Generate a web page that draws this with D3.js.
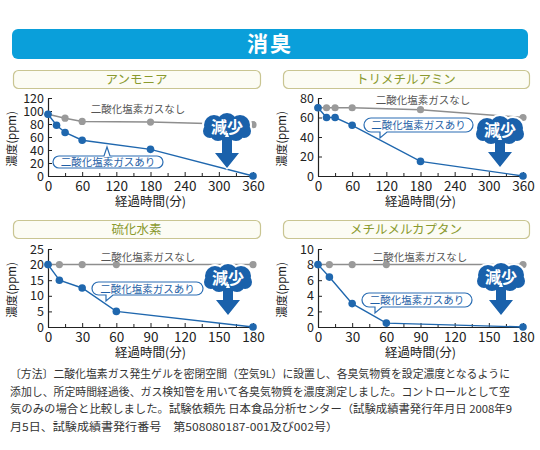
<!DOCTYPE html>
<html><head><meta charset="utf-8">
<script src="https://cdn.jsdelivr.net/npm/d3@7"></script>
<style>
html,body{margin:0;padding:0;background:#fff;}
svg{display:block;}
text{font-family:"Noto Sans CJK JP","Noto Sans",sans-serif;}
</style>
</head><body>
<svg id="c" width="540" height="450"></svg>
<script>
// ---------- data ----------
const mainTitle = "消臭";
const chartTitles = ["アンモニア", "トリメチルアミン", "硫化水素", "メチルメルカプタン"];
const seriesNames = ["二酸化塩素ガスなし", "二酸化塩素ガスあり"];
const badgeText = "減少";
const xLabel = "経過時間(分)";
const yLabel = "濃度(ppm)";

const xTicks360 = [0, 60, 120, 180, 240, 300, 360];
const xTicks180 = [0, 30, 60, 90, 120, 150, 180];

// アンモニア
const ammoniaTimesNone = [0, 30, 60, 180, 360];
const ammoniaNone = [95, 89, 84, 83, 79];
const ammoniaTimesWith = [0, 15, 30, 60, 180, 360];
const ammoniaWith = [95, 78, 67, 55, 41, 0];
const ammoniaYTicks = [0, 20, 40, 60, 80, 100, 120];

// トリメチルアミン
const tmaTimesNone = [0, 15, 30, 60, 180, 360];
const tmaNone = [70, 70, 70, 70, 68, 60];
const tmaTimesWith = [0, 15, 30, 60, 180, 360];
const tmaWith = [70, 60, 60, 52, 15, 0];
const tmaYTicks = [0, 20, 40, 60, 80];

// 硫化水素
const h2sTimesNone = [0, 10, 30, 60, 180];
const h2sNone = [20, 20, 20, 20, 20];
const h2sTimesWith = [0, 10, 30, 60, 180];
const h2sWith = [20, 15, 12.5, 5, 0];
const h2sYTicks = [0, 5, 10, 15, 20, 25];

// メチルメルカプタン
const mmTimesNone = [0, 10, 30, 60, 180];
const mmNone = [8, 8, 8, 8, 8];
const mmTimesWith = [0, 10, 30, 60, 180];
const mmWith = [8, 6.4, 3, 0.5, 0];
const mmYTicks = [0, 2, 4, 6, 8, 10];

const footnoteLines = [
  "〔方法〕二酸化塩素ガス発生ゲルを密閉空間（空気9L）に設置し、各臭気物質を設定濃度となるように",
  "添加し、所定時間経過後、ガス検知管を用いて各臭気物質を濃度測定しました。コントロールとして空",
  "気のみの場合と比較しました。試験依頼先 日本食品分析センター（試験成績書発行年月日 2008年9",
  "月5日、試験成績書発行番号　第508080187-001及び002号）"
];

// ---------- styling / layout ----------
const BLUE = "#1f67ae", GRAY_LINE = "#8e8e8e", GRAY_DOT = "#9a9a9a";
const BADGE = "#1a61ab";
const NUMFONT = "'Liberation Sans',Arial,sans-serif";
const svg = d3.select("#c");

// banner
svg.append("rect").attr("x", 12).attr("y", 29).attr("width", 516).attr("height", 30)
  .attr("rx", 6).attr("fill", "#0a9fda");
svg.append("text").attr("x", 270).attr("y", 51).attr("text-anchor", "middle")
  .attr("fill", "#fff").attr("font-size", 21).attr("font-weight", 700)
  .attr("letter-spacing", 2).text(mainTitle);

const panels = [
  {title: chartTitles[0], tx: 13, tw: 247, ty: 70, left: 48, top: 98,
   tN: ammoniaTimesNone, vN: ammoniaNone, tW: ammoniaTimesWith, vW: ammoniaWith,
   yTicks: ammoniaYTicks, xTicks: xTicks360,
   gray: [90, 11], call: [5, 58, 110, 12, "up", 56], badge: [179, 30, 70]},
  {title: chartTitles[1], tx: 283, tw: 246, ty: 70, left: 318, top: 98,
   tN: tmaTimesNone, vN: tmaNone, tW: tmaTimesWith, vW: tmaWith,
   yTicks: tmaYTicks, xTicks: xTicks360,
   gray: [105, 2], call: [46, 20, 109, 14, "down", 62], badge: [182, 33, 69]},
  {title: chartTitles[2], tx: 13, tw: 247, ty: 220, left: 48, top: 249,
   tN: h2sTimesNone, vN: h2sNone, tW: h2sTimesWith, vW: h2sWith,
   yTicks: h2sYTicks, xTicks: xTicks180,
   gray: [100, 8], call: [44, 33, 111, 13, "down", 58], badge: [180, 30, 66]},
  {title: chartTitles[3], tx: 283, tw: 246, ty: 220, left: 318, top: 249,
   tN: mmTimesNone, vN: mmNone, tW: mmTimesWith, vW: mmWith,
   yTicks: mmYTicks, xTicks: xTicks180,
   gray: [102, 8], call: [44, 44, 110, 14, "down", 57], badge: [183, 29, 66]}
];

const PW = 205, PH = 78;

panels.forEach(p => {
  // title box
  svg.append("rect").attr("x", p.tx + 0.5).attr("y", p.ty + 0.5).attr("width", p.tw).attr("height", 18)
    .attr("rx", 5).attr("fill", "#fcfcf4").attr("stroke", "#c9c592").attr("stroke-width", 1.2);
  svg.append("text").attr("x", p.tx + p.tw / 2).attr("y", p.ty + 14).attr("text-anchor", "middle")
    .attr("font-size", 12.5).attr("fill", "#8a9a2e").text(p.title);

  const xMax = p.xTicks[p.xTicks.length - 1];
  const yMax = p.yTicks[p.yTicks.length - 1];
  const x = d3.scaleLinear().domain([0, xMax]).range([0, PW]);
  const y = d3.scaleLinear().domain([0, yMax]).range([PH, 0]);
  const g = svg.append("g").attr("transform", `translate(${p.left},${p.top})`);

  // minor x ticks
  const step = p.xTicks[1] - p.xTicks[0];
  const minor = p.xTicks.slice(0, -1).map(v => v + step / 2);
  g.append("g").attr("transform", `translate(0,${PH})`)
    .call(d3.axisBottom(x).tickValues(minor).tickSizeInner(-3).tickSizeOuter(0).tickFormat(""))
    .call(a => a.select(".domain").remove())
    .call(a => a.selectAll("line").attr("stroke", "#222"));

  // x axis
  g.append("g").attr("transform", `translate(0,${PH})`)
    .call(d3.axisBottom(x).tickValues(p.xTicks).tickSizeInner(-4).tickSizeOuter(0).tickPadding(5))
    .call(a => a.select(".domain").attr("stroke", "#222").attr("stroke-width", 1.2))
    .call(a => a.selectAll("line").attr("stroke", "#222"))
    .call(a => a.selectAll("text").attr("font-size", 13.5).attr("fill", "#222").attr("font-family", NUMFONT));

  // y axis
  g.append("g")
    .call(d3.axisLeft(y).tickValues(p.yTicks).tickSizeInner(-4).tickSizeOuter(0).tickPadding(4))
    .call(a => a.select(".domain").attr("stroke", "#222").attr("stroke-width", 1.2))
    .call(a => a.selectAll("line").attr("stroke", "#222"))
    .call(a => a.selectAll("text").attr("font-size", 12.5).attr("fill", "#222").attr("font-family", NUMFONT));

  // axis titles
  g.append("text").attr("x", PW / 2).attr("y", PH + 30).attr("text-anchor", "middle")
    .attr("font-size", 12.5).attr("fill", "#222").text(xLabel);
  g.append("text").attr("transform", `translate(${-32},${PH / 2 + 2}) rotate(-90)`)
    .attr("text-anchor", "middle").attr("font-size", 11.5).attr("fill", "#222").text(yLabel);

  const line = d3.line().x(d => x(d[0])).y(d => y(d[1]));
  const none = p.tN.map((t, i) => [t, p.vN[i]]);
  const withD = p.tW.map((t, i) => [t, p.vW[i]]);

  // gray series
  g.append("path").datum(none).attr("d", line).attr("fill", "none")
    .attr("stroke", GRAY_LINE).attr("stroke-width", 1.5);
  g.selectAll(".gd").data(none).enter().append("circle")
    .attr("cx", d => x(d[0])).attr("cy", d => y(d[1])).attr("r", 3.6).attr("fill", GRAY_DOT);

  // blue series
  g.append("path").datum(withD).attr("d", line).attr("fill", "none")
    .attr("stroke", BLUE).attr("stroke-width", 1.4);
  g.selectAll(".bd").data(withD).enter().append("circle")
    .attr("cx", d => x(d[0])).attr("cy", d => y(d[1])).attr("r", 3.8).attr("fill", BLUE);

  // gray series label
  g.append("text").attr("x", p.gray[0]).attr("y", p.gray[1] + 4).attr("text-anchor", "middle")
    .attr("font-size", 10.5).attr("fill", "#555").text(seriesNames[0]);

  // callout
  const [cx0, cy0, cw, ch, dir, tx] = p.call;
  const r = ch / 2;
  let path;
  if (dir === "up") {
    path = `M${cx0 + r},${cy0} L${tx},${cy0} L${tx + 3},${cy0 - 9} L${tx + 6},${cy0} L${cx0 + cw - r},${cy0}
      A${r},${r} 0 0 1 ${cx0 + cw - r},${cy0 + ch} L${cx0 + r},${cy0 + ch} A${r},${r} 0 0 1 ${cx0 + r},${cy0} Z`;
  } else {
    path = `M${cx0 + r},${cy0} L${cx0 + cw - r},${cy0} A${r},${r} 0 0 1 ${cx0 + cw - r},${cy0 + ch}
      L${tx + 7},${cy0 + ch} L${tx},${cy0 + ch + 6} L${tx},${cy0 + ch} L${cx0 + r},${cy0 + ch}
      A${r},${r} 0 0 1 ${cx0 + r},${cy0} Z`;
  }
  g.append("path").attr("d", path).attr("fill", "#fff").attr("stroke", "#2a6db3").attr("stroke-width", 1.2);
  g.append("text").attr("x", cx0 + cw / 2).attr("y", cy0 + ch / 2 + 4).attr("text-anchor", "middle")
    .attr("font-size", 10.5).attr("fill", "#1f5fa6").text(seriesNames[1]);

  // badge + arrow
  const [bx, by, tipY] = p.badge;
  const bumps = [[-13, -3, 10], [0, -5, 10], [13, -3, 10], [-9, 5, 8], [9, 5, 8], [-17, 3, 7], [17, 3, 7]];
  const bg = g.append("g");
  const arrow = `M${bx - 5},${by + 9} L${bx + 5},${by + 9} L${bx + 5},${tipY - 15} L${bx + 12},${tipY - 15}
    L${bx},${tipY} L${bx - 12},${tipY - 15} L${bx - 5},${tipY - 15} Z`;
  bg.append("path").attr("d", arrow).attr("fill", "#fff").attr("stroke", "#fff").attr("stroke-width", 2.5);
  bumps.forEach(b => bg.append("circle").attr("cx", bx + b[0]).attr("cy", by + b[1]).attr("r", b[2] + 2).attr("fill", "#fff"));
  bg.append("path").attr("d", arrow).attr("fill", BADGE);
  bumps.forEach(b => bg.append("circle").attr("cx", bx + b[0]).attr("cy", by + b[1]).attr("r", b[2]).attr("fill", BADGE));
  bg.append("text").attr("x", bx).attr("y", by + 5).attr("text-anchor", "middle")
    .attr("font-size", 16).attr("font-weight", 700).attr("fill", "#fff").text(badgeText);
});

// footnote
const fnWidths = [500, 500, 502, 328];
footnoteLines.forEach((t, i) => {
  svg.append("text").attr("x", 10).attr("y", 378 + i * 17.5)
    .attr("font-size", 11).attr("fill", "#333")
    .attr("textLength", fnWidths[i]).attr("lengthAdjust", "spacingAndGlyphs").text(t);
});
</script>
</body></html>
